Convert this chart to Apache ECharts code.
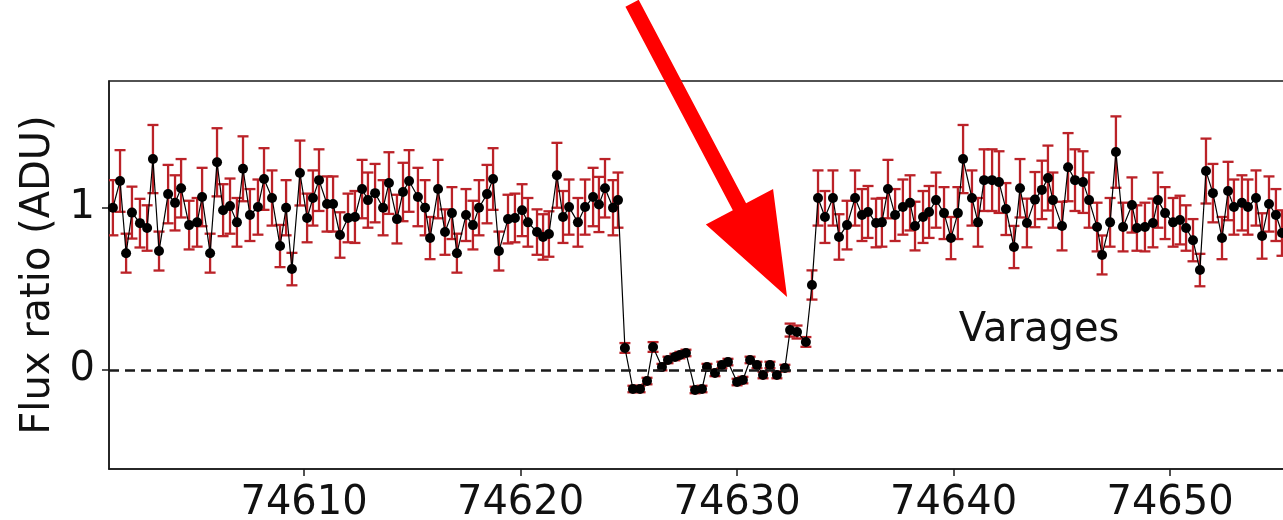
<!DOCTYPE html>
<html><head><meta charset="utf-8">
<script src="https://cdn.jsdelivr.net/npm/echarts@6/dist/echarts.min.js"></script>
<style>html,body{margin:0;padding:0;background:#fff;overflow:hidden;width:1283px;height:520px}#c{width:1340px;height:520px}</style>
</head><body><div id="c"></div>
<script>
// Time (x) values
const time = [
74601.17,74601.50,74601.78,74602.05,74602.42,74602.75,74603.02,74603.30,74603.72,74604.04,
74604.32,74604.69,74605.06,74605.29,74605.66,74605.98,74606.26,74606.58,74606.90,74607.18,
74607.50,74607.87,74608.15,74608.52,74608.89,74609.17,74609.44,74609.81,74610.14,74610.41,
74610.69,74611.06,74611.34,74611.66,74612.03,74612.35,74612.68,74612.95,74613.28,74613.65,
74613.92,74614.29,74614.57,74614.85,74615.26,74615.59,74615.82,74616.19,74616.51,74616.83,
74617.06,74617.48,74617.80,74618.08,74618.45,74618.73,74619.00,74619.42,74619.74,74620.07,
74620.34,74620.76,74621.04,74621.31,74621.68,74621.96,74622.24,74622.65,74622.98,74623.35,
74623.62,74623.90,74624.27,74624.50,
74624.82,74625.19,74625.52,74625.84,74626.12,74626.53,74626.81,74627.13,74627.36,74627.64,
74628.06,74628.38,74628.61,74628.98,74629.30,74629.58,74630.00,74630.27,74630.60,74630.92,
74631.20,74631.52,74631.84,74632.21,74632.45,74632.77,74633.18,74633.46,
74633.74,74634.06,74634.43,74634.71,74635.08,74635.45,74635.77,74636.05,74636.42,74636.69,
74636.97,74637.30,74637.66,74637.99,74638.22,74638.59,74638.87,74639.19,74639.56,74639.88,
74640.20,74640.44,74640.85,74641.13,74641.41,74641.78,74642.10,74642.42,74642.79,74643.07,
74643.39,74643.76,74644.08,74644.36,74644.59,74645.01,74645.29,74645.61,74645.98,74646.26,
74646.63,74646.86,74647.23,74647.50,74647.83,74648.24,74648.47,74648.84,74649.21,74649.44,
74649.77,74650.14,74650.46,74650.74,74651.06,74651.38,74651.66,74651.98,74652.40,74652.68,
74652.95,74653.32,74653.60,74653.97,74654.25,74654.57,74654.89,74655.17,74655.50,74655.82
];
// Flux ratio values
const flux = [
1.00,1.165,0.72,0.97,0.905,0.875,1.30,0.733,1.084,1.03,
1.12,0.893,0.91,1.066,0.72,1.28,0.985,1.01,0.91,1.24,
0.955,1.004,1.177,1.06,0.764,1.00,0.622,1.214,0.937,1.06,
1.17,1.023,1.023,0.832,0.937,0.943,1.115,1.047,1.09,1.00,
1.152,0.93,1.097,1.165,1.066,1.00,0.813,1.115,0.85,0.967,
0.72,0.955,0.893,1.00,1.084,1.177,0.733,0.93,0.937,0.985,
0.91,0.85,0.82,0.838,1.20,0.943,1.004,0.91,1.004,1.066,
1.02,1.12,1.00,1.047,
0.136,-0.117,-0.117,-0.068,0.142,0.018,0.062,0.08,0.092,0.105,
-0.123,-0.117,0.018,-0.018,0.031,0.049,-0.074,-0.062,0.062,0.031,
-0.031,0.031,-0.031,0.012,0.246,0.234,0.173,0.524,
1.06,0.943,1.06,0.82,0.893,1.06,0.955,0.974,0.906,0.91,
1.115,0.955,1.004,1.03,0.887,0.943,0.974,1.047,0.967,0.813,
0.967,1.30,1.06,0.91,1.17,1.17,1.158,0.992,0.758,1.12,
0.906,1.05,1.11,1.183,1.047,0.887,1.25,1.17,1.158,1.047,
0.881,0.709,0.91,1.343,0.881,1.017,0.875,0.881,0.906,1.047,
0.967,0.91,0.924,0.875,0.80,0.616,1.226,1.09,0.813,1.103,
1.004,1.03,1.004,1.06,0.826,1.023,0.955,0.844,0.95,1.05
];
// Flux ratio uncertainties
const fluxErr = [
0.17,0.19,0.12,0.16,0.15,0.14,0.21,0.12,0.18,0.17,
0.18,0.15,0.15,0.18,0.12,0.21,0.16,0.17,0.15,0.20,
0.16,0.17,0.19,0.17,0.13,0.17,0.10,0.20,0.15,0.17,
0.19,0.17,0.17,0.14,0.15,0.16,0.18,0.17,0.18,0.17,
0.19,0.15,0.18,0.19,0.18,0.17,0.13,0.18,0.14,0.16,
0.12,0.16,0.15,0.17,0.18,0.19,0.12,0.15,0.15,0.16,
0.15,0.14,0.14,0.14,0.20,0.16,0.17,0.15,0.17,0.18,
0.17,0.18,0.17,0.17,
0.03,0.02,0.02,0.02,0.03,0.02,0.02,0.02,0.02,0.02,
0.02,0.02,0.02,0.02,0.02,0.02,0.02,0.02,0.02,0.02,
0.02,0.02,0.02,0.02,0.04,0.04,0.03,0.09,
0.17,0.16,0.17,0.14,0.15,0.17,0.16,0.16,0.15,0.15,
0.18,0.16,0.17,0.17,0.15,0.16,0.16,0.17,0.16,0.13,
0.16,0.21,0.17,0.15,0.19,0.19,0.19,0.16,0.13,0.18,
0.15,0.17,0.18,0.20,0.17,0.15,0.21,0.19,0.19,0.17,
0.15,0.12,0.15,0.22,0.15,0.17,0.14,0.15,0.15,0.17,
0.16,0.15,0.15,0.14,0.13,0.10,0.20,0.18,0.13,0.18,
0.17,0.17,0.17,0.17,0.14,0.17,0.16,0.14,0.16,0.17
];
const xTicks = [74610, 74620, 74630, 74640, 74650];
const yTicks = [0, 1];
const xRange = [74600.99, 74657.85];
const yRange = [-0.61, 1.781];
const yAxisTitle = 'Flux ratio (ADU)';
const siteLabel = 'Varages';
const siteLabelAt = [74643.95, 0.245];
const arrowTail = [74625.15, 2.26];
const arrowTip = [74632.31, 0.45];

const n = Math.min(time.length, flux.length, fluxErr.length);
const pts = [], bars = [];
for (let i = 0; i < n; i++) {
  pts.push([time[i], flux[i]]);
  bars.push([time[i], flux[i], flux[i] - fluxErr[i], flux[i] + fluxErr[i]]);
}

const FONT = 'DejaVu Sans';
const chart = echarts.init(document.getElementById('c'), null, {renderer: 'canvas'});
chart.setOption({
  animation: false,
  backgroundColor: '#fff',
  grid: {left: 109, top: 81, right: 0, bottom: 51, outerBoundsMode: 'none', containLabel: false,
         show: true, borderColor: '#1a1a1a', borderWidth: 1.5, backgroundColor: 'transparent'},
  xAxis: {
    type: 'value', min: xRange[0], max: xRange[1],
    axisLine: {show: true, onZero: false, lineStyle: {color: '#1a1a1a', width: 1.5}},
    axisTick: {show: true, length: 7, inside: false, customValues: xTicks, lineStyle: {color: '#1a1a1a', width: 1.5}},
    axisLabel: {customValues: xTicks, formatter: v => String(v), color: '#111', fontSize: 40, fontFamily: FONT, margin: 15},
    splitLine: {show: false}
  },
  yAxis: {
    type: 'value', min: yRange[0], max: yRange[1],
    name: yAxisTitle, nameLocation: 'middle', nameGap: 50, nameRotate: 90,
    nameTextStyle: {fontSize: 40, fontFamily: FONT, color: '#111'},
    axisLine: {show: true, onZero: false, lineStyle: {color: '#1a1a1a', width: 1.5}},
    axisTick: {show: true, length: 7, inside: false, customValues: yTicks, lineStyle: {color: '#1a1a1a', width: 1.5}},
    axisLabel: {customValues: yTicks, formatter: v => String(v), color: '#111', fontSize: 40, fontFamily: FONT, margin: 14},
    splitLine: {show: false}
  },
  series: [
    {
      type: 'custom', clip: true, z: 2,
      data: bars,
      encode: {x: 0, y: [1, 2, 3]},
      renderItem: function (params, api) {
        const x = api.value(0);
        const lo = api.coord([x, api.value(2)]);
        const hi = api.coord([x, api.value(3)]);
        const cw = 5.5;
        const st = {stroke: '#bb2228', lineWidth: 2.3};
        return {type: 'group', children: [
          {type: 'line', shape: {x1: lo[0], y1: lo[1], x2: hi[0], y2: hi[1]}, style: st},
          {type: 'line', shape: {x1: lo[0] - cw, y1: lo[1], x2: lo[0] + cw, y2: lo[1]}, style: st},
          {type: 'line', shape: {x1: hi[0] - cw, y1: hi[1], x2: hi[0] + cw, y2: hi[1]}, style: st}
        ]};
      },
      markLine: {
        silent: true, symbol: 'none', label: {show: false},
        lineStyle: {type: [10, 6], color: '#1a1a1a', width: 2.5},
        data: [{yAxis: 0}]
      }
    },
    {
      type: 'line', z: 3, data: pts, showAllSymbol: true,
      symbol: 'circle', symbolSize: 10,
      itemStyle: {color: '#000'},
      lineStyle: {color: '#000', width: 1.2},
      clip: true
    }
  ]
});

function drawAnnotations() {
  const T = chart.convertToPixel({gridIndex: 0}, arrowTail);
  const P = chart.convertToPixel({gridIndex: 0}, arrowTip);
  const L = chart.convertToPixel({gridIndex: 0}, siteLabelAt);
  const dx = P[0] - T[0], dy = P[1] - T[1];
  const len = Math.hypot(dx, dy);
  const ux = dx / len, uy = dy / len;
  const nx = -uy, ny = ux;
  const headLen = 102, headHalf = 38, shaftHalf = 7.5;
  const B = [P[0] - ux * headLen, P[1] - uy * headLen];
  const poly = [
    [T[0] + nx * shaftHalf, T[1] + ny * shaftHalf],
    [B[0] + nx * shaftHalf, B[1] + ny * shaftHalf],
    [B[0] + nx * headHalf, B[1] + ny * headHalf],
    [P[0], P[1]],
    [B[0] - nx * headHalf, B[1] - ny * headHalf],
    [B[0] - nx * shaftHalf, B[1] - ny * shaftHalf],
    [T[0] - nx * shaftHalf, T[1] - ny * shaftHalf]
  ];
  chart.setOption({graphic: [
    {type: 'text', z: 10, style: {text: siteLabel, x: L[0], y: L[1], align: 'center', verticalAlign: 'middle', font: '40px "DejaVu Sans"', fill: '#111'}},
    {type: 'polygon', z: 20, shape: {points: poly}, style: {fill: '#ff0000'}}
  ]});
}
drawAnnotations();
</script>
</body></html>
